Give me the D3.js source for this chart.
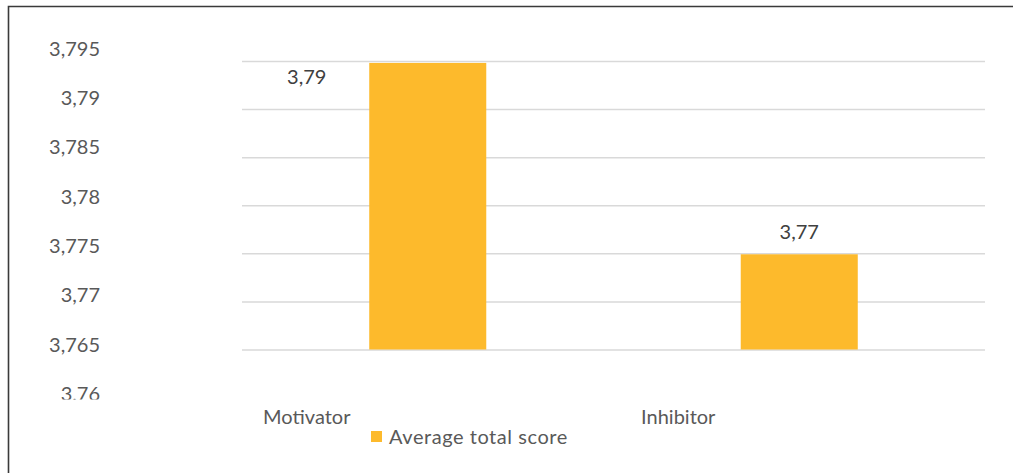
<!DOCTYPE html>
<html>
<head>
<meta charset="utf-8">
<script src="https://cdn.jsdelivr.net/npm/d3@7"></script>
<style>
  html, body { margin: 0; padding: 0; background: #fff; }
  svg { display: block; }
  text { font-family: Lato, "Open Sans", sans-serif; fill: #595959; }
</style>
</head>
<body>
<svg id="chart" width="1013" height="473"></svg>
<script>
const categories = ["Motivator", "Inhibitor"];
const seriesName = "Average total score";
const values = [3.7948, 3.7749];
const gridTicks = [3.765, 3.77, 3.775, 3.78, 3.785, 3.79, 3.795];
const tickLabels = [3.76, 3.765, 3.77, 3.775, 3.78, 3.785, 3.79, 3.795];

const W = 1013, H = 473;
const plot = { left: 242, right: 985, top: 61, bottom: 349.5 };
const barColor = "#FDBA2C";
const FS = 20;

const svg = d3.select("#chart");
const loc = d3.formatLocale({ decimal: ",", thousands: ".", grouping: [3], currency: ["", ""] });
const fmtTick = loc.format(".3~f");
const fmtVal = loc.format(".2f");

// frame
svg.append("path")
  .attr("d", `M8.5,${H} L8.5,6.5 L${W},6.5`)
  .attr("fill", "none").attr("stroke", "#3a3a3a").attr("stroke-width", 1.6);

// scales
const y = d3.scaleLinear().domain([3.765, 3.795]).range([plot.bottom, plot.top]);
const yLabel = d3.scaleLinear().domain([3.76, 3.795]).range([394, 49]);
const x = d3.scaleBand().domain(categories).range([plot.left, plot.right])
  .paddingInner(0.685).paddingOuter(0.3425);

// gridlines
const grid = svg.append("g").attr("transform", `translate(${plot.left},0)`)
  .call(d3.axisLeft(y).tickValues(gridTicks).tickSize(-(plot.right - plot.left)).tickFormat(""));
grid.select(".domain").remove();
grid.selectAll(".tick line").attr("stroke", "#d9d9d9").attr("stroke-width", 1.5);

// y tick labels (clipped at bottom like the reference)
svg.append("defs").append("clipPath").attr("id", "yclip")
  .append("rect").attr("x", 0).attr("y", 0).attr("width", 200).attr("height", 399.5);
const yAx = svg.append("g").attr("clip-path", "url(#yclip)")
  .append("g").attr("transform", "translate(100,0)")
  .call(d3.axisLeft(yLabel).tickValues(tickLabels).tickSize(0).tickPadding(0).tickFormat(fmtTick));
yAx.select(".domain").remove();
yAx.selectAll("text").attr("font-size", FS).attr("fill", "#595959")
  .style("font-family", "Lato, 'Open Sans', sans-serif");

// bars
const data = categories.map((c, i) => ({ c, v: values[i] }));
svg.append("g").selectAll("rect").data(data).join("rect")
  .attr("x", d => x(d.c))
  .attr("y", d => y(d.v))
  .attr("width", x.bandwidth())
  .attr("height", d => y(3.765) - y(d.v))
  .attr("fill", barColor);

// data labels
const labelShift = 121;
svg.append("g").selectAll("text").data(data).join("text")
  .attr("x", d => {
    const c = x(d.c) + x.bandwidth() / 2;
    return (y(d.v) - 22 < plot.top) ? c - labelShift : c;
  })
  .attr("y", d => (y(d.v) - 22 < plot.top) ? y(d.v) + 14 : y(d.v) - 22)
  .attr("dy", "0.35em")
  .attr("text-anchor", "middle")
  .attr("font-size", FS)
  .style("fill", "#404040")
  .text(d => fmtVal(d.v));

// category labels
svg.append("g").selectAll("text").data(categories).join("text")
  .attr("x", d => x(d) + x.bandwidth() / 2 - labelShift)
  .attr("y", 417)
  .attr("dy", "0.35em")
  .attr("text-anchor", "middle")
  .attr("font-size", FS)
  .text(d => d);

// legend
const lg = svg.append("g").attr("transform", "translate(371,431)");
lg.append("rect").attr("width", 11).attr("height", 11).attr("fill", barColor);
lg.append("text").attr("x", 18).attr("y", 5.5).attr("dy", "0.35em")
  .attr("font-size", FS).attr("letter-spacing", 0.55).text(seriesName);
</script>
</body>
</html>
